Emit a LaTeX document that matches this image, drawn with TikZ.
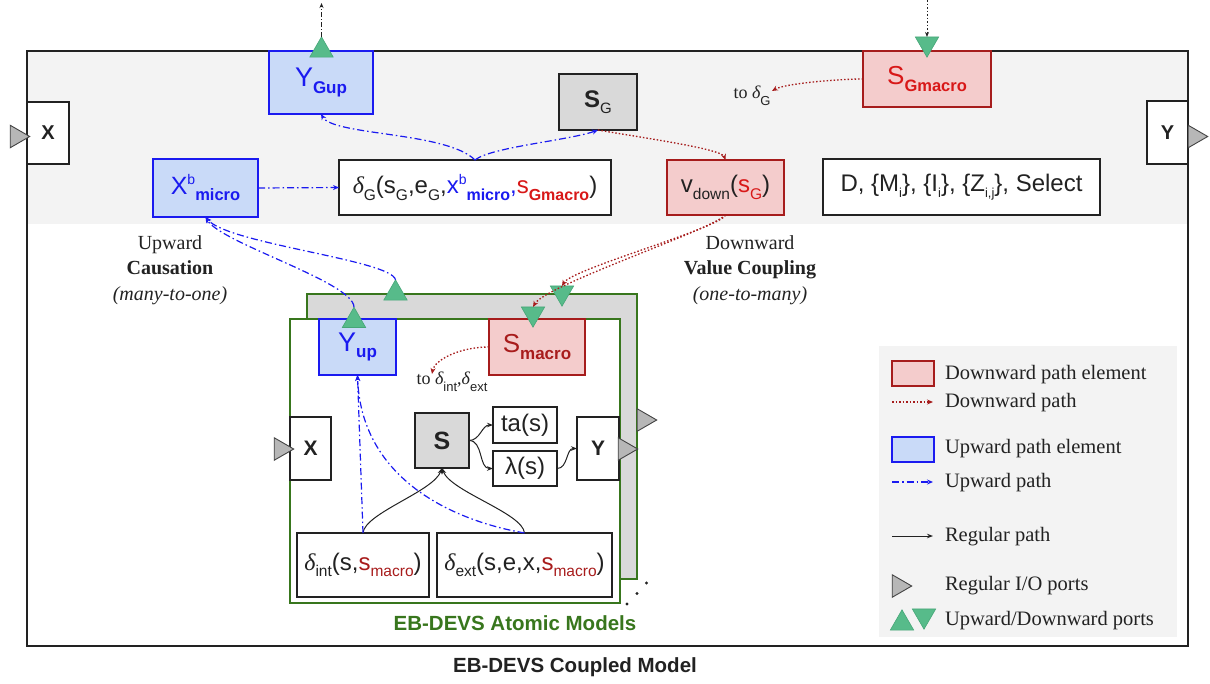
\documentclass[tikz,border=0pt]{standalone}
\usepackage{fontspec}
\setmainfont{Liberation Serif}
\setsansfont{Liberation Sans}
\usetikzlibrary{arrows.meta,shapes.geometric}
\definecolor{txt}{HTML}{222222}
\definecolor{upfill}{HTML}{C9DAF8}
\definecolor{upline}{HTML}{1A1AF0}
\definecolor{dnfill}{HTML}{F4CCCC}
\definecolor{dnline}{HTML}{A61C1C}
\definecolor{dnbright}{HTML}{D81818}
\definecolor{dndark}{HTML}{A81C1C}
\definecolor{grn}{HTML}{57BB8A}
\definecolor{grnline}{HTML}{46A678}
\definecolor{atomgreen}{HTML}{38761D}
\definecolor{band}{HTML}{F3F3F3}
\definecolor{boxgray}{HTML}{D9D9D9}
\definecolor{portgray}{HTML}{B7B7B7}
\definecolor{portline}{HTML}{434343}
\newcommand\fs[1]{\fontsize{#1}{#1}\selectfont}
\newcommand\lo[2][15.5]{\raisebox{-6.5pt}{\fs{#1}#2}}
\newcommand\hi[2][14]{\raisebox{9.5pt}{\fs{#1}#2}}
\newcommand\dl[1]{{\rmfamily\itshape δ}\lo{#1}}
\begin{document}
\begin{tikzpicture}[x=1pt,y=-1pt,
  every node/.style={inner sep=0pt,outer sep=0pt},
  box/.style={draw=txt,line width=1.2pt,fill=white,text=txt,font=\sffamily\fs{24}},
  upbox/.style={box,draw=upline,fill=upfill,text=upline},
  dnbox/.style={box,draw=dnline,fill=dnfill,text=dnbright},
  graybox/.style={box,fill=boxgray},
  iobox/.style={box,line width=2.4pt,font=\sffamily\bfseries\fs{20}},
  portR/.style={regular polygon,regular polygon sides=3,shape border rotate=-90,minimum size=26pt,draw=portline,fill=portgray,line width=0.9pt},
  portU/.style={regular polygon,regular polygon sides=3,minimum size=27pt,draw=grnline,fill=grn,line width=0.6pt},
  portD/.style={portU,shape border rotate=180},
  uppath/.style={draw=upline,line width=1.2pt,dash pattern=on 7pt off 3pt on 1.5pt off 3pt,-{Stealth[length=6pt,width=5pt]}},
  dnpath/.style={draw=dnline,line width=1.3pt,dash pattern=on 1.5pt off 2pt,-{Stealth[length=6pt,width=5pt]}},
  regpath/.style={draw=txt,line width=1pt,-{Stealth[length=6pt,width=4.5pt]}},
  lab/.style={font=\rmfamily\fontsize{20}{25.5}\selectfont,text=txt},
  leg/.style={font=\rmfamily\fs{20.5},text=txt,anchor=base west},
]
\useasboundingbox (0,0) rectangle (1210,683);
% coupled model frame
\fill[band] (27,51) rectangle (1188,224);
\node[draw=txt,line width=2.5pt,minimum width=1161pt,minimum height=595pt] (coupled) at (607.5,348.5) {};
\node[fill=band,minimum width=298pt,minimum height=291pt] (legend) at (1028,491.5) {};
\node[font=\sffamily\bfseries\fs{20.5},text=txt] (coupledlabel) at (575,667) {EB-DEVS Coupled Model};

% top level
\node[iobox,minimum width=42pt,minimum height=62pt] (xtop) at (48,133) {X};
\node[portR] (xtopport) at (16.7,136.5) {};
\node[iobox,minimum width=41pt,minimum height=63pt] (ytop) at (1167.5,132.5) {Y};
\node[portR] (ytopport) at (1194.7,136.5) {};

\node[upbox,minimum width=104pt,minimum height=63pt,font=\sffamily\fs{27}] (ygup) at (321,82.5) {Y\lo[17]{\textbf{Gup}}};
\node[portU] (ygupport) at (321.5,50.3) {};
\coordinate (topout) at (321.5,3);
\draw[draw=txt,line width=1pt,dash pattern=on 5pt off 2pt on 1pt off 2pt,-{Stealth[length=5pt,width=4pt]}] (ygupport.north) -- (topout);

\node[dnbox,minimum width=128pt,minimum height=56pt,font=\sffamily\fs{26}] (sgm) at (927,79) {S\lo[16.5]{\textbf{Gmacro}}};
\node[portD] (sgmport) at (927,43.7) {};
\coordinate (topin) at (927,0);
\draw[draw=txt,line width=1pt,dash pattern=on 1.5pt off 2pt,-{Stealth[length=5pt,width=4pt]}] (topin) -- (sgmport.north);

\node[lab,font=\rmfamily\fs{18}] (todg) at (752,96) {to {\itshape δ}\lo[13]{\sffamily G}};
\coordinate (tdg) at (772,91);
\draw[dnpath] (sgm.west) to[out=180,in=30,out distance=25pt,in distance=15pt] (tdg);

\node[graybox,minimum width=78pt,minimum height=56pt] (sg) at (598,102) {\textbf{S}\lo[15]{G}};
\node[box,minimum width=272pt,minimum height=55pt] (dg) at (475,187.5) {\dl{G}(s\lo{G},e\lo{G},{\color{upline}x\hi{b}\lo[16]{\textbf{micro}},}{\color{dnbright}s\lo[16]{\textbf{Gmacro}}})};
\node[upbox,minimum width=105pt,minimum height=58pt,font=\sffamily\fs{25}] (xbm) at (205.5,188) {X\hi{b}\lo[16.5]{\textbf{micro}}};
\node[dnbox,minimum width=117pt,minimum height=55pt,text=txt] (vdown) at (725.5,187.5) {v\lo{down}({\color{dnbright}s\lo{G}})};
\node[box,minimum width=277pt,minimum height=56pt] (dbox) at (961.5,187) {D, \{M\lo[13]{i}\}, \{I\lo[13]{i}\}, \{Z\lo[13]{i,j}\}, Select};

\draw[uppath] (xbm.east) -- (dg.west);
\draw[uppath] (dg.north) to[out=135,in=-60,out distance=40pt,in distance=25pt] (ygup.south);
\draw[uppath] (dg.north) to[out=40,in=-160,out distance=20pt,in distance=30pt] (sg.south);
\draw[dnpath] (sg.south) to[out=-10,in=110,out distance=40pt,in distance=12pt] (vdown.north);

% labels
\node[lab,align=center] (upcaus) at (170,270) {Upward\\\textbf{Causation}\\\textit{(many-to-one)}};
\node[lab,align=center] (dncoup) at (750,270) {Downward\\\textbf{Value Coupling}\\\textit{(one-to-many)}};

% atomic models
\node[draw=atomgreen,fill=boxgray,line width=1.5pt,minimum width=330pt,minimum height=285pt] (aback) at (472,436.5) {};
\node[draw=atomgreen,fill=white,line width=1.5pt,minimum width=330pt,minimum height=284pt] (afront) at (455,461) {};
\node[portU] (abackup) at (395.5,293.3) {};
\node[portD] (abackdn) at (562,292.7) {};
\node[portR] (abackout) at (643.7,420) {};
\node[font=\sffamily\bfseries\fs{20.5},text=atomgreen] (atomlabel) at (515,623) {EB-DEVS Atomic Models};
\fill[txt] (627,604) circle[radius=1.6pt] (637,593.5) circle[radius=1.6pt] (646.5,583) circle[radius=1.6pt];

\node[upbox,minimum width=77pt,minimum height=56pt,font=\sffamily\fs{27}] (yup) at (357.5,347) {Y\lo[17]{\textbf{up}}};
\node[portU] (yupport) at (354,320.7) {};
\node[dnbox,minimum width=96pt,minimum height=56pt,font=\sffamily\fs{26},text=dndark] (smacro) at (537,347) {S\lo[17]{\textbf{macro}}};
\node[portD] (smacroport) at (533,313.7) {};
\node[lab,font=\rmfamily\fs{18}] (todie) at (452,382) {to {\itshape δ}\lo[13]{\sffamily int},{\itshape δ}\lo[13]{\sffamily ext}};
\coordinate (tdie) at (432,374);
\draw[dnpath] (smacro.west) to[out=180,in=80,out distance=30pt,in distance=14pt] (tdie);

\node[iobox,font=\sffamily\bfseries\fs{21},minimum width=41pt,minimum height=63pt] (ax) at (310.5,448.5) {X};
\node[portR] (axport) at (280.7,449) {};
\node[graybox,minimum width=54pt,minimum height=55pt,font=\sffamily\bfseries\fs{25}] (s) at (442,440.5) {S};
\node[box,minimum width=64pt,minimum height=36pt] (ta) at (525,425) {ta(s)};
\node[box,minimum width=64pt,minimum height=35pt] (lam) at (525,468.5) {λ(s)};
\node[iobox,font=\sffamily\bfseries\fs{21},minimum width=42pt,minimum height=63pt] (ay) at (598,448.5) {Y};
\node[portR] (ayport) at (624.7,449) {};
\node[box,minimum width=132pt,minimum height=64pt] (dint) at (363,565) {\dl{int}(s,{\color{dndark}s\lo{macro}})};
\node[box,minimum width=175pt,minimum height=64pt] (dext) at (524.5,565) {\dl{ext}(s,e,x,{\color{dndark}s\lo{macro}})};

\draw[regpath] (s.east) to[out=0,in=180] (ta.west);
\draw[regpath] (s.east) to[out=0,in=180] (lam.west);
\draw[regpath] (lam.east) to[out=0,in=180] (ay.west);
\draw[regpath] (dint.north) to[out=85,in=-110,out distance=20pt,in distance=25pt] (s.south);
\draw[regpath] (dext.north) to[out=95,in=-70,out distance=20pt,in distance=25pt] (s.south);
\draw[uppath] (dint.north) -- (yup.south);
\draw[uppath] (dext.north) to[out=170,in=-88,out distance=80pt,in distance=100pt] (yup.south);

% coupling paths
\draw[uppath] (yupport.north) to[out=90,in=-60,out distance=25pt,in distance=30pt] (xbm.south);
\draw[uppath] (abackup.north) to[out=100,in=-50,out distance=20pt,in distance=35pt] (xbm.south);
\draw[dnpath] (vdown.south) to[out=-115,in=60,out distance=15pt,in distance=20pt] (abackdn.north);
\draw[dnpath] (vdown.south) to[out=-135,in=60,out distance=22pt,in distance=25pt] (smacroport.north);

% legend
\node[dnbox,minimum width=42pt,minimum height=25pt] (legdnbox) at (913,373.5) {};
\node[leg] (legdnboxt) at (945,379) {Downward path element};
\coordinate (ldna) at (892,402); \coordinate (ldnb) at (933,402);
\draw[dnpath] (ldna) -- (ldnb);
\node[leg] (legdnt) at (945,407) {Downward path};
\node[upbox,minimum width=42pt,minimum height=25pt] (legupbox) at (913,449.5) {};
\node[leg] (legupboxt) at (945,453) {Upward path element};
\coordinate (lupa) at (892,482); \coordinate (lupb) at (933,482);
\draw[uppath] (lupa) -- (lupb);
\node[leg] (legupt) at (945,487) {Upward path};
\coordinate (lrga) at (892,536); \coordinate (lrgb) at (933,536);
\draw[regpath] (lrga) -- (lrgb);
\node[leg] (legrgt) at (945,541) {Regular path};
\node[portR] (legport) at (898.7,586) {};
\node[leg] (legportt) at (945,590) {Regular I/O ports};
\node[portU] (legup) at (902,623.3) {};
\node[portD] (legdn) at (924,615.7) {};
\node[leg] (legudt) at (945,625) {Upward/Downward ports};
\end{tikzpicture}
\end{document}
